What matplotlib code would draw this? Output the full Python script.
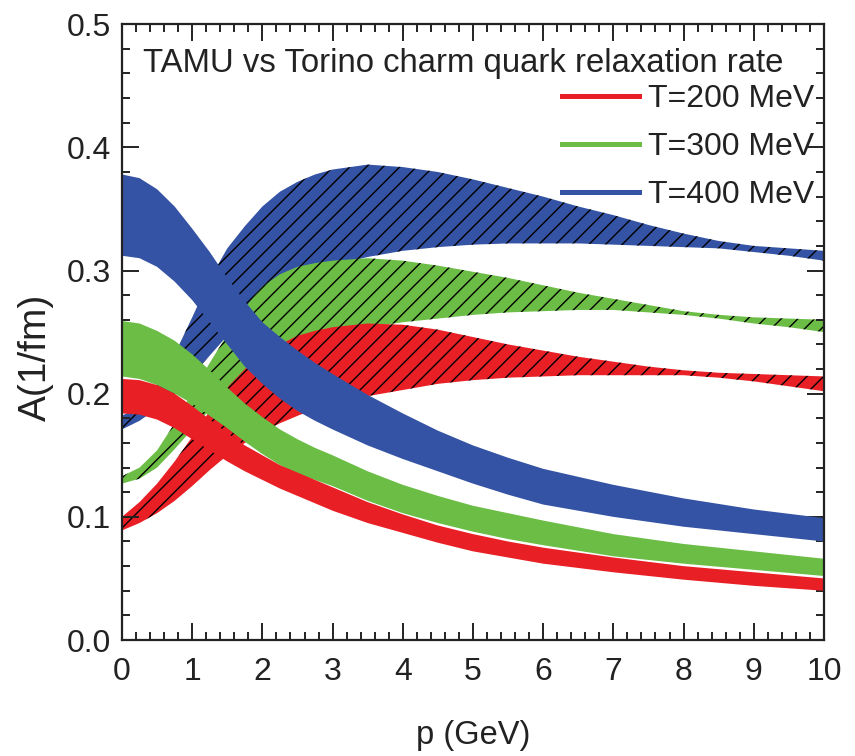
import numpy as np
import matplotlib
matplotlib.use("Agg")
import matplotlib.pyplot as plt
from matplotlib.lines import Line2D

plt.rcParams['font.family'] = ['Liberation Sans', 'DejaVu Sans']
plt.rcParams['hatch.linewidth'] = 1.0

# ---------------- data ----------------
# TAMU (solid bands)
p_tamu = [0, 0.25, 0.5, 0.75, 1, 1.25, 1.5, 1.75, 2, 2.25, 2.5, 2.75, 3, 3.5, 4, 4.5, 5, 5.5, 6, 7, 8, 9, 10]
tamu200_hi = [0.212, 0.211, 0.207, 0.200, 0.190, 0.179, 0.168, 0.158, 0.150, 0.142, 0.136, 0.130, 0.124,
              0.112, 0.102, 0.093, 0.086, 0.080, 0.075, 0.067, 0.060, 0.055, 0.050]
tamu200_lo = [0.184, 0.183, 0.179, 0.172, 0.163, 0.154, 0.145, 0.137, 0.130, 0.123, 0.117, 0.111, 0.105,
              0.095, 0.087, 0.079, 0.072, 0.067, 0.062, 0.055, 0.049, 0.044, 0.040]
tamu300_hi = [0.259, 0.257, 0.251, 0.243, 0.232, 0.219, 0.205, 0.192, 0.181, 0.171, 0.163, 0.156, 0.150,
              0.137, 0.126, 0.117, 0.109, 0.103, 0.097, 0.086, 0.078, 0.072, 0.066]
tamu300_lo = [0.214, 0.212, 0.207, 0.200, 0.192, 0.182, 0.172, 0.161, 0.151, 0.142, 0.135, 0.130, 0.125,
              0.113, 0.103, 0.095, 0.088, 0.082, 0.077, 0.068, 0.062, 0.057, 0.052]
tamu400_hi = [0.378, 0.375, 0.366, 0.352, 0.334, 0.315, 0.294, 0.275, 0.258, 0.246, 0.235, 0.225, 0.216,
              0.199, 0.184, 0.170, 0.158, 0.148, 0.139, 0.126, 0.115, 0.106, 0.099]
tamu400_lo = [0.312, 0.310, 0.303, 0.291, 0.276, 0.258, 0.240, 0.222, 0.208, 0.196, 0.186, 0.178, 0.171,
              0.158, 0.147, 0.137, 0.127, 0.118, 0.110, 0.100, 0.092, 0.086, 0.080]

# Torino (hatched bands)
p_tor = [0, 0.25, 0.5, 0.75, 1, 1.25, 1.5, 1.75, 2, 2.25, 2.5, 2.75, 3, 3.5, 4, 4.5, 5, 5.5, 6, 6.5,
         7, 7.5, 8, 8.5, 9, 9.5, 10]
tor200_hi = [0.100, 0.112, 0.127, 0.145, 0.165, 0.186, 0.205, 0.220, 0.231, 0.240, 0.247, 0.251, 0.254,
             0.257, 0.256, 0.252, 0.246, 0.240, 0.235, 0.230, 0.226, 0.222, 0.219, 0.217, 0.216, 0.215, 0.214]
tor200_lo = [0.089, 0.095, 0.103, 0.113, 0.125, 0.138, 0.150, 0.160, 0.169, 0.176, 0.182, 0.188, 0.192,
             0.198, 0.203, 0.208, 0.211, 0.213, 0.214, 0.215, 0.215, 0.215, 0.215, 0.213, 0.210, 0.206, 0.202]
tor300_hi = [0.133, 0.140, 0.154, 0.176, 0.201, 0.225, 0.248, 0.270, 0.287, 0.297, 0.303, 0.306, 0.308,
             0.310, 0.308, 0.304, 0.299, 0.294, 0.288, 0.282, 0.277, 0.272, 0.267, 0.264, 0.262, 0.261, 0.260]
tor300_lo = [0.127, 0.131, 0.140, 0.155, 0.171, 0.187, 0.202, 0.214, 0.224, 0.233, 0.240, 0.245, 0.249,
             0.254, 0.258, 0.261, 0.264, 0.266, 0.267, 0.268, 0.268, 0.266, 0.264, 0.261, 0.257, 0.254, 0.250]
tor400_hi = [0.182, 0.190, 0.207, 0.232, 0.262, 0.293, 0.318, 0.336, 0.352, 0.364, 0.372, 0.378, 0.382,
             0.386, 0.384, 0.380, 0.374, 0.367, 0.360, 0.352, 0.345, 0.337, 0.330, 0.324, 0.320, 0.318, 0.316]
tor400_lo = [0.171, 0.178, 0.188, 0.200, 0.215, 0.231, 0.247, 0.262, 0.275, 0.285, 0.293, 0.299, 0.304,
             0.311, 0.316, 0.319, 0.321, 0.322, 0.322, 0.322, 0.321, 0.320, 0.319, 0.318, 0.315, 0.312, 0.308]

labels = ['T=200 MeV', 'T=300 MeV', 'T=400 MeV']
RED, GREEN, BLUE = '#E91F26', '#6BBD45', '#3553A4'
TXT = '#222222'

fig = plt.figure(figsize=(8.55, 7.56), dpi=100)
ax = fig.add_axes([0.1427, 0.1534, 0.8210, 0.8146])

# hatched Torino bands (behind)
for lo, hi, c in [(tor400_lo, tor400_hi, BLUE), (tor300_lo, tor300_hi, GREEN), (tor200_lo, tor200_hi, RED)]:
    ax.fill_between(p_tor, lo, hi, facecolor=c, edgecolor='black', hatch='//', linewidth=0, zorder=1)

# solid TAMU bands (front)
for lo, hi, c in [(tamu400_lo, tamu400_hi, BLUE), (tamu300_lo, tamu300_hi, GREEN), (tamu200_lo, tamu200_hi, RED)]:
    ax.fill_between(p_tamu, lo, hi, facecolor=c, edgecolor='none', linewidth=0, zorder=2)

ax.set_xlim(0, 10)
ax.set_ylim(0, 0.5)
ax.set_xticks(np.arange(0, 11, 1))
ax.set_xticks(np.arange(0, 10.01, 0.2), minor=True)
ax.set_yticks(np.arange(0, 0.51, 0.1))
ax.set_yticks(np.arange(0, 0.501, 0.02), minor=True)
ax.set_yticklabels(['0.0', '0.1', '0.2', '0.3', '0.4', '0.5'])
ax.tick_params(which='both', direction='in', top=True, right=True, color=TXT, width=1.4)
ax.tick_params(which='major', length=12)
ax.tick_params(which='minor', length=6)
ax.tick_params(axis='x', which='major', labelsize=23, pad=12, labelcolor=TXT)
ax.tick_params(axis='y', which='major', labelsize=23, pad=8, labelcolor=TXT)
for s in ax.spines.values():
    s.set_linewidth(1.6)
    s.set_color(TXT)

ax.set_xlabel('p (GeV)', fontsize=23.5, color=TXT, labelpad=24)
fig.text(36 / 855, 1 - 357 / 756, 'A(1/fm)', rotation=90, fontsize=28, color=TXT,
         ha='center', va='center')

ax.text(0.03, 0.922, 'TAMU vs Torino charm quark relaxation rate', transform=ax.transAxes,
        fontsize=23.7, color=TXT, va='baseline', ha='left', zorder=5)

handles = [Line2D([], [], color=c, lw=3.6) for c in (RED, GREEN, BLUE)]
leg = ax.legend(handles, labels, loc='upper left', bbox_to_anchor=(0.627, 0.903), frameon=False,
                fontsize=23, handlelength=2.4, handletextpad=0.28, labelspacing=0.56,
                borderpad=0, borderaxespad=0)
for t in leg.get_texts():
    t.set_color(TXT)

fig.savefig('out.png', dpi=100)
